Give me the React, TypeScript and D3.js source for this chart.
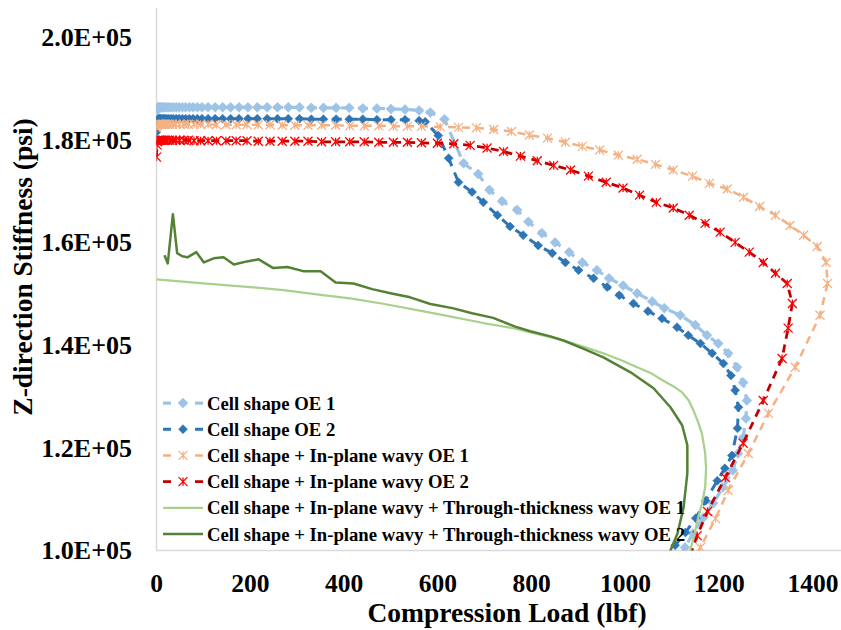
import * as d3 from 'd3';

type Pt = [number, number];

// [compression load (lbf), stiffness (psi)]
const cellOE1: Pt[] = [
  [0, 185600], [1, 186000], [2, 186200], [3, 186300], [5, 186300], [7, 186300], [9, 186300],
  [12, 186300], [15, 186300], [18, 186300], [22, 186300], [26, 186300], [31, 186300], [36, 186300],
  [42, 186300], [48, 186300], [55, 186300], [62, 186300], [70, 186300], [78, 186300], [87, 186300],
  [97, 186300], [110, 186300], [125, 186300], [141, 186300], [158, 186300], [176, 186300],
  [195, 186300], [215, 186300], [236, 186300], [258, 186300], [281, 186300], [305, 186300],
  [330, 186200], [356, 186200], [383, 186200], [411, 186200], [440, 186100], [470, 186100],
  [500, 186000], [530, 185900], [560, 185700], [584, 185300], [614, 184000], [655, 175400],
  [686, 173300], [710, 170200], [737, 168000], [769, 166300], [793, 164000], [822, 161800],
  [850, 160000], [880, 158100], [908, 156100], [939, 154600], [965, 153000], [995, 151600],
  [1025, 150100], [1057, 148500], [1083, 147200], [1117, 145800], [1149, 143900], [1174, 141900],
  [1198, 140300], [1219, 138400], [1238, 135700], [1251, 132700], [1259, 129200], [1257, 125700],
  [1251, 122000], [1240, 118900], [1229, 115600], [1208, 112300], [1187, 109200], [1166, 106400],
  [1144, 103300], [1127, 100600], [1115, 98500],
];

const cellOE2: Pt[] = [
  [0, 181500], [1, 183300], [2, 183800], [3, 184000], [5, 184100], [7, 184100], [9, 184100],
  [12, 184100], [15, 184100], [18, 184100], [22, 184100], [26, 184100], [31, 184100], [36, 184100],
  [42, 184100], [48, 184100], [55, 184100], [62, 184100], [70, 184100], [78, 184100], [87, 184100],
  [97, 184100], [110, 184100], [125, 184100], [141, 184100], [158, 184100], [176, 184100],
  [195, 184100], [215, 184100], [236, 184100], [258, 184100], [281, 184100], [305, 184100],
  [330, 184000], [356, 184000], [383, 184000], [411, 184000], [440, 184000], [470, 183900],
  [500, 183900], [530, 183900], [560, 183700], [573, 183500], [601, 180800], [623, 176400],
  [644, 171700], [673, 169800], [697, 167800], [727, 165300], [754, 163100], [782, 161400],
  [814, 159400], [844, 157900], [872, 156100], [900, 154600], [932, 153000], [961, 151300],
  [987, 149700], [1017, 148100], [1048, 146600], [1078, 145200], [1110, 143500], [1134, 141900],
  [1160, 140300], [1185, 138400], [1209, 136400], [1225, 134100], [1234, 131200], [1241, 127900],
  [1239, 123800], [1227, 118500], [1212, 116000], [1196, 113600], [1171, 109700], [1150, 106300],
  [1128, 103500], [1106, 101000], [1090, 98500],
];

const inPlaneOE1: Pt[] = [
  [0, 182300], [1, 182700], [2, 182900], [3, 183000], [5, 183000], [7, 183000], [9, 183000],
  [12, 183000], [15, 183000], [19, 183000], [23, 183000], [28, 183000], [34, 183000], [41, 183000],
  [49, 183000], [58, 183000], [68, 183000], [80, 183000], [94, 183000], [110, 183000],
  [128, 182900], [148, 182900], [170, 182900], [193, 182900], [217, 182900], [242, 182900],
  [268, 182800], [295, 182800], [323, 182800], [352, 182800], [382, 182800], [412, 182700],
  [443, 182700], [474, 182700], [505, 182600], [535, 182600], [565, 182600], [605, 182500],
  [644, 182400], [682, 182300], [719, 182000], [757, 181600], [795, 180900], [834, 180300],
  [872, 179500], [908, 178700], [945, 178000], [985, 177000], [1025, 176200], [1064, 175200],
  [1102, 174100], [1143, 172900], [1179, 171500], [1217, 170400], [1252, 168800], [1286, 167000],
  [1320, 165300], [1351, 163300], [1380, 161400], [1409, 159200], [1428, 156100], [1431, 152000],
  [1415, 145800], [1362, 135700], [1305, 126700], [1262, 118900], [1219, 111700], [1192, 106200],
  [1160, 100600], [1145, 98000],
];

const inPlaneOE2: Pt[] = [
  [0, 176600], [1, 179000], [2, 179600], [3, 179800], [5, 179900], [7, 179900], [9, 179900],
  [12, 179900], [15, 179900], [19, 179900], [23, 179900], [28, 179900], [34, 179900], [41, 179900],
  [49, 179900], [58, 179900], [68, 179900], [80, 179800], [94, 179800], [110, 179800],
  [128, 179800], [148, 179800], [170, 179800], [193, 179800], [217, 179700], [242, 179700],
  [268, 179700], [295, 179700], [323, 179700], [352, 179600], [382, 179600], [412, 179600],
  [443, 179600], [474, 179500], [505, 179500], [535, 179500], [565, 179400], [599, 179300],
  [634, 179200], [669, 178900], [705, 178400], [740, 177700], [776, 176800], [812, 175900],
  [847, 175000], [883, 174100], [921, 172900], [959, 171700], [995, 170600], [1030, 169200],
  [1066, 167800], [1102, 166700], [1136, 165300], [1170, 163700], [1202, 162000], [1234, 160000],
  [1264, 158100], [1294, 156100], [1320, 154000], [1345, 152000], [1356, 148100], [1347, 143300],
  [1334, 137400], [1294, 129200], [1251, 120900], [1213, 114200], [1175, 107600], [1153, 102900],
  [1138, 99000],
];

const throughOE1: Pt[] = [
  [0, 152800], [100, 152000], [200, 151300], [271, 150700], [350, 149800], [413, 149100],
  [480, 148100], [556, 146800], [620, 145700], [697, 144300], [761, 143300], [833, 141700],
  [868, 140900], [910, 139700], [953, 138400], [990, 137100], [1025, 135700], [1055, 134500],
  [1080, 133100], [1102, 132000], [1121, 130800], [1135, 129200], [1145, 127300], [1155, 125000],
  [1163, 122800], [1170, 119000], [1172, 116000], [1170, 112300], [1163, 109000], [1155, 106400],
  [1147, 103000], [1138, 100000], [1133, 98500],
];

const throughOE2: Pt[] = [
  [17, 157500], [24, 155900], [35, 165500], [44, 157900], [55, 157300], [66, 157100],
  [85, 158100], [101, 156100], [122, 156900], [143, 157100], [165, 155700], [193, 156300],
  [218, 156700], [249, 155000], [279, 155200], [313, 154400], [350, 154400], [382, 152200],
  [420, 152000], [460, 150900], [499, 150100], [541, 149300], [584, 148000], [631, 147200],
  [673, 146200], [718, 145300], [765, 143600], [797, 142700], [840, 141700], [868, 140900],
  [910, 139300], [953, 137600], [1011, 134700], [1060, 131600], [1096, 127900], [1121, 124400],
  [1132, 120500], [1132, 115000], [1124, 108400], [1111, 103300], [1096, 100000], [1090, 98500],
];

const xTicks = [0, 200, 400, 600, 800, 1000, 1200, 1400];
const yTicks = [100000, 120000, 140000, 160000, 180000, 200000];

const labels = [
  'Cell shape OE 1',
  'Cell shape OE 2',
  'Cell shape + In-plane wavy OE 1',
  'Cell shape + In-plane wavy OE 2',
  'Cell shape + In-plane wavy + Through-thickness wavy OE 1',
  'Cell shape + In-plane wavy + Through-thickness wavy OE 2',
];

type Marker = 'diamond' | 'star' | 'none';
interface SeriesStyle {
  data: Pt[];
  line: string;
  mark: string;
  width: number;
  dash?: string;
  marker: Marker;
  r: number;
}

const series: SeriesStyle[] = [
  { data: cellOE1, line: '#9DC3E6', mark: '#9DC3E6', width: 3.25, dash: '10,7', marker: 'diamond', r: 5 },
  { data: cellOE2, line: '#2E75B6', mark: '#2E75B6', width: 3, dash: '10,7', marker: 'diamond', r: 4.5 },
  { data: inPlaneOE1, line: '#F4B183', mark: '#F4B183', width: 2.5, dash: '8,6', marker: 'star', r: 4.5 },
  { data: inPlaneOE2, line: '#C00000', mark: '#FF0000', width: 2.75, dash: '8,6', marker: 'star', r: 4.5 },
  { data: throughOE1, line: '#A9D18E', mark: '#A9D18E', width: 2.25, marker: 'none', r: 0 },
  { data: throughOE2, line: '#548235', mark: '#548235', width: 2.5, marker: 'none', r: 0 },
];

const W = 841;
const H = 630;
const FONT = '"Liberation Serif", "Times New Roman", serif';

const x = d3.scaleLinear().domain([0, 1400]).range([156.5, 813]);
const y = d3.scaleLinear().domain([100000, 200000]).range([550.5, 37]);

const line = d3
  .line<Pt>()
  .x((d) => x(d[0]))
  .y((d) => y(d[1]));

function markerPath(kind: Marker, r: number) {
  if (kind === 'diamond') return `M0,${-r}L${r},0L0,${r}L${-r},0Z`;
  if (kind === 'star') return `M${-r},${-r}L${r},${r}M${-r},${r}L${r},${-r}M0,${-r * 0.9}L0,${r * 0.9}`;
  return '';
}

function MarkerShape({ s, cx, cy }: { s: SeriesStyle; cx: number; cy: number }) {
  if (s.marker === 'none') return null;
  return (
    <path
      d={markerPath(s.marker, s.r)}
      transform={`translate(${cx},${cy})`}
      fill={s.marker === 'diamond' ? s.mark : 'none'}
      stroke={s.mark}
      strokeWidth={s.marker === 'diamond' ? 0.5 : 1.3}
    />
  );
}

export default function App() {
  const plotLeft = 156.5;
  const plotBottom = 550.5;
  const legendTop = 403;
  const legendStep = 26.2;

  return (
    <svg
      width={W}
      height={H}
      viewBox={`0 0 ${W} ${H}`}
      style={{ position: 'absolute', left: 0, top: 0, background: '#fff' }}
      fontFamily={FONT}
      fontWeight="bold"
    >
      <defs>
        <clipPath id="plot-clip">
          <rect x={plotLeft} y={8} width={W - plotLeft} height={plotBottom - 8} />
        </clipPath>
      </defs>

      {/* axes */}
      <line x1={plotLeft} x2={plotLeft} y1={8} y2={plotBottom} stroke="#D9D9D9" strokeWidth={1.5} />
      <line x1={plotLeft} x2={W} y1={plotBottom} y2={plotBottom} stroke="#D9D9D9" strokeWidth={1.5} />

      {/* series */}
      <g clipPath="url(#plot-clip)">
        {series.map((s, i) => (
          <g key={i}>
            <path
              d={line(s.data) || ''}
              fill="none"
              stroke={s.line}
              strokeWidth={s.width}
              strokeDasharray={s.dash}
              strokeLinejoin="round"
            />
            {s.data.map((d, j) => (
              <MarkerShape key={j} s={s} cx={x(d[0])} cy={y(d[1])} />
            ))}
          </g>
        ))}
      </g>

      {/* y tick labels */}
      {yTicks.map((t) => (
        <text key={t} x={132} y={y(t)} dy="0.34em" textAnchor="end" fontSize={26}>
          {(t / 100000).toFixed(1)}E+05
        </text>
      ))}

      {/* x tick labels */}
      {xTicks.map((t) => (
        <text key={t} x={x(t)} y={592} textAnchor="middle" fontSize={25.5}>
          {t}
        </text>
      ))}

      {/* axis titles */}
      <text x={507} y={622} textAnchor="middle" fontSize={27.5}>
        Compression Load (lbf)
      </text>
      <text transform="translate(32,267) rotate(-90)" textAnchor="middle" fontSize={27.5}>
        Z-direction Stiffness (psi)
      </text>

      {/* legend */}
      {series.map((s, i) => {
        const cy = legendTop + i * legendStep;
        return (
          <g key={i}>
            <line
              x1={163}
              x2={203}
              y1={cy}
              y2={cy}
              stroke={s.line}
              strokeWidth={s.width}
              strokeDasharray={s.dash ? '8,24' : undefined}
            />
            <MarkerShape s={s} cx={183} cy={cy} />
            <text x={207} y={cy + 6.5} fontSize={18.7}>
              {labels[i]}
            </text>
          </g>
        );
      })}
    </svg>
  );
}
